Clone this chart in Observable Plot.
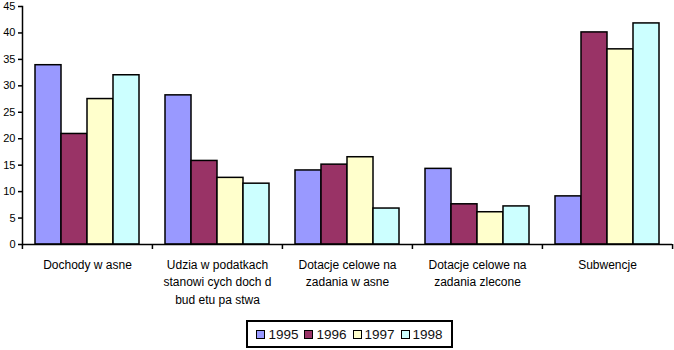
<!DOCTYPE html>
<html>
<head>
<meta charset="utf-8">
<script src="https://cdn.jsdelivr.net/npm/d3@7"></script>
<script src="https://cdn.jsdelivr.net/npm/@observablehq/plot@0.6"></script>
<style>
  body { margin: 0; background: #fff; font-family: "Liberation Sans", Arial, sans-serif; }
  #wrap { position: relative; width: 674px; height: 350px; }
  #legend { position: absolute; left: 246px; top: 320px; width: 203px; height: 24px;
    border: 2px solid #000; display: flex; align-items: center; justify-content: center; gap: 6px;
    font-size: 13.5px; color: #111; }
  .item { display: flex; align-items: center; gap: 3px; }
  .sw { width: 7px; height: 7px; border: 1.5px solid #000; }
</style>
</head>
<body>
<div id="wrap"><div id="chart"></div><div id="legend"></div></div>
<script>
const groupLabels = [
  "Dochody w asne",
  "Udzia w podatkach\nstanowi cych doch d\nbud etu pa stwa",
  "Dotacje celowe na\nzadania w asne",
  "Dotacje celowe na\nzadania zlecone",
  "Subwencje"
];
const years = ["1995", "1996", "1997", "1998"];
const v1995 = [33.9, 28.2, 14.0, 14.3, 9.1];
const v1996 = [20.9, 15.8, 15.1, 7.6, 40.1];
const v1997 = [27.5, 12.6, 16.5, 6.1, 36.9];
const v1998 = [32.0, 11.5, 6.8, 7.2, 41.8];
const yTicks = [0, 5, 10, 15, 20, 25, 30, 35, 40, 45];
const colors = ["#9999FF", "#993366", "#FFFFCC", "#CCFFFF"];

const series = [v1995, v1996, v1997, v1998];
const groupIds = groupLabels.map((_, i) => i);
const data = [];
groupIds.forEach(g => years.forEach((yr, j) => data.push({g, year: yr, value: series[j][g]})));

const W = 674, mL = 21, mR = 1;
const step = (W - mL - mR) / groupIds.length / (years.length + 1);

const chart = Plot.plot({
  width: W, height: 310,
  marginLeft: mL, marginRight: mR, marginTop: 6, marginBottom: 66,
  style: {fontFamily: "'Liberation Sans', Arial, sans-serif", fontSize: "11px", color: "#000", background: "#fff"},
  fx: {domain: groupIds, padding: 0, axis: null},
  x: {domain: years, paddingInner: 0, paddingOuter: 0.5, axis: null},
  y: {domain: [0, 45], axis: null},
  color: {domain: years, range: colors},
  marks: [
    Plot.barY(data, {fx: "g", x: "year", y: "value", fill: "year", stroke: "#000", strokeWidth: 1.5}),
    Plot.ruleY([0], {stroke: "#000", strokeWidth: 1.5}),
    Plot.axisY({ticks: yTicks, tickSize: 4, tickPadding: 3, fontSize: 11, label: null, strokeWidth: 1.5}),
    Plot.frame({anchor: "left", facetAnchor: "left", stroke: "#000", strokeWidth: 1.5}),
    Plot.ruleX(groupIds, {fx: d => d, x: () => years[0], y1: 0, y2: 0, dx: -step, insetBottom: -5, stroke: "#000", strokeWidth: 1.5}),
    Plot.ruleX([groupIds[groupIds.length - 1]], {fx: d => d, x: () => years[years.length - 1], y1: 0, y2: 0, dx: step, insetBottom: -5, stroke: "#000", strokeWidth: 1.5}),
    Plot.text(groupIds, {fx: d => d, text: d => groupLabels[d], frameAnchor: "bottom", lineAnchor: "top", dy: 12, lineHeight: 1.45, fontSize: 12, fill: "#000"})
  ]
});
document.getElementById("chart").appendChild(chart);

const legend = document.getElementById("legend");
years.forEach((yr, i) => {
  const it = document.createElement("div");
  it.className = "item";
  const sw = document.createElement("div");
  sw.className = "sw";
  sw.style.background = colors[i];
  const t = document.createElement("span");
  t.textContent = yr;
  it.appendChild(sw); it.appendChild(t);
  legend.appendChild(it);
});
</script>
</body>
</html>
